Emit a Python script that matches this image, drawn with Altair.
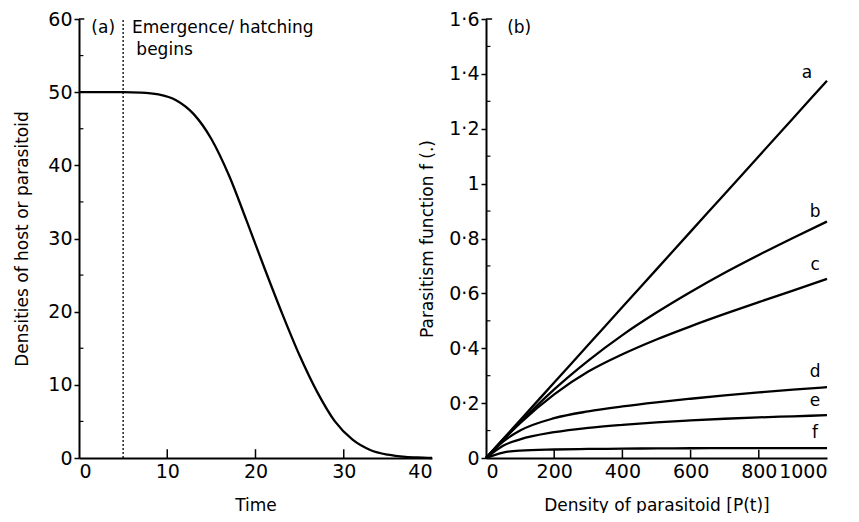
import altair as alt
import pandas as pd

FONT = "DejaVu Sans"

# ---------- Panel (a) data ----------
time = [0, 5, 7, 9, 11, 13, 15, 17, 19, 21, 23, 25, 27, 29, 31, 33, 35, 37, 39, 40]
density = [50, 50, 49.95, 49.7, 48.9, 47.0, 43.6, 38.6, 32.4, 26.0, 19.8, 14.0, 9.0, 5.0,
           2.5, 1.1, 0.45, 0.15, 0.05, 0]
emergence_time = [5]
a_xticks = [0, 10, 20, 30, 40]
a_yticks = [0, 10, 20, 30, 40, 50, 60]
a_minor_y = [5, 15, 25, 35, 45, 55]
a_notes = ["(a)", "Emergence/ hatching", "begins"]
a_notes_x = [1.4, 6.0, 6.5]
a_notes_y = [58.8, 58.8, 55.8]

# ---------- Panel (b) data ----------
P = [0, 50, 100, 200, 300, 400, 500, 600, 700, 800, 900, 1000]
curve_a = [0, 0.069, 0.1375, 0.275, 0.4125, 0.55, 0.6875, 0.825, 0.9625, 1.1, 1.2375, 1.375]
curve_b = [0, 0.066, 0.13, 0.25, 0.355, 0.448, 0.53, 0.605, 0.675, 0.74, 0.802, 0.862]
curve_c = [0, 0.066, 0.127, 0.232, 0.315, 0.378, 0.432, 0.48, 0.525, 0.568, 0.61, 0.653]
curve_d = [0, 0.06, 0.10, 0.145, 0.17, 0.188, 0.203, 0.216, 0.228, 0.239, 0.249, 0.258]
curve_e = [0, 0.045, 0.068, 0.094, 0.11, 0.121, 0.13, 0.137, 0.143, 0.148, 0.152, 0.156]
curve_f = [0, 0.02, 0.027, 0.031, 0.033, 0.034, 0.035, 0.0355, 0.036, 0.036, 0.036, 0.036]
curve_names = ["a", "b", "c", "d", "e", "f"]
label_x = [941, 965, 965, 965, 965, 965]
label_y = [1.404, 0.896, 0.704, 0.312, 0.207, 0.091]
b_xticks = [0, 200, 400, 600, 800, 1000]
b_yticks = [0, 0.2, 0.4, 0.6, 0.8, 1.0, 1.2, 1.4, 1.6]
b_minor_y = [0.1, 0.3, 0.5, 0.7, 0.9, 1.1, 1.3, 1.5]
b_notes = ["(b)"]
b_notes_x = [62]
b_notes_y = [1.567]

W_A, W_B, H = 353, 341, 439

axis_common = dict(
    domainColor="black", domainWidth=2, tickColor="black", tickWidth=1.5,
    labelFont=FONT, labelFontSize=19, labelColor="black", labelOverlap=False,
    titleFont=FONT, titleFontSize=17, titleFontWeight="normal", titleColor="black",
    grid=False,
)

# ---------- Panel (a) ----------
df_a = pd.DataFrame({"t": time, "v": density})
xa = alt.X("t:Q", scale=alt.Scale(domain=[0, 40], nice=False),
           axis=alt.Axis(values=a_xticks, title="Time", ticks=False, labelPadding=4,
                         titlePadding=16, format="d", **axis_common))
ya = alt.Y("v:Q", scale=alt.Scale(domain=[0, 60], nice=False),
           axis=alt.Axis(values=a_yticks, title="Densities of host or parasitoid", tickSize=5,
                         labelPadding=2, titlePadding=16, format="d", **axis_common))

line_a = alt.Chart(df_a).mark_line(color="black", strokeWidth=2.3, interpolate="monotone").encode(x=xa, y=ya)

rule_a = alt.Chart(pd.DataFrame({"t": emergence_time})).mark_rule(
    color="black", strokeWidth=1.3, strokeDash=[2, 2]
).encode(x="t:Q", y=alt.datum(0), y2=alt.datum(60))

xt_a = alt.Chart(pd.DataFrame({"t": a_xticks[1:-1]})).mark_rule(color="black", strokeWidth=1.5).encode(
    x="t:Q", y=alt.datum(0), y2=alt.datum(1.2))
yt_a = alt.Chart(pd.DataFrame({"v": a_minor_y})).mark_rule(color="black", strokeWidth=1.2).encode(
    y="v:Q", x=alt.datum(0), x2=alt.datum(0.5))
top_a = alt.Chart(pd.DataFrame({"v": [60]})).mark_rule(color="black", strokeWidth=1.5).encode(
    y="v:Q", x=alt.datum(0), x2=alt.datum(0.6))

text_a = alt.Chart(pd.DataFrame({"x": a_notes_x, "y": a_notes_y, "s": a_notes})).mark_text(
    align="left", baseline="middle", font=FONT, fontSize=17, color="black"
).encode(x="x:Q", y="y:Q", text="s:N")

panel_a = alt.layer(line_a, rule_a, xt_a, yt_a, top_a, text_a).properties(width=W_A, height=H)

# ---------- Panel (b) ----------
rows = []
for name, vals in zip(curve_names, [curve_a, curve_b, curve_c, curve_d, curve_e, curve_f]):
    for p, v in zip(P, vals):
        rows.append({"curve": name, "P": p, "f": v})
df_b = pd.DataFrame(rows)

xb = alt.X("P:Q", scale=alt.Scale(domain=[0, 1000], nice=False),
           axis=alt.Axis(values=b_xticks, title="Density of parasitoid [P(t)]", ticks=False,
                         labelPadding=4, titlePadding=16, format="d", **axis_common))
yb = alt.Y("f:Q", scale=alt.Scale(domain=[0, 1.6], nice=False),
           axis=alt.Axis(values=b_yticks, title="Parasitism function f (.)", tickSize=5,
                         labelPadding=2, titlePadding=12,
                         labelExpr="replace(format(datum.value, '~g'), '.', '·')",
                         **axis_common))

lines_b = alt.Chart(df_b).mark_line(color="black", strokeWidth=2.3, interpolate="monotone").encode(
    x=xb, y=yb, detail="curve:N")

xt_b = alt.Chart(pd.DataFrame({"P": b_xticks[1:-1]})).mark_rule(color="black", strokeWidth=1.5).encode(
    x="P:Q", y=alt.datum(0), y2=alt.datum(0.03))
yt_b = alt.Chart(pd.DataFrame({"f": b_minor_y})).mark_rule(color="black", strokeWidth=1.2).encode(
    y="f:Q", x=alt.datum(0), x2=alt.datum(13))
top_b = alt.Chart(pd.DataFrame({"f": [1.6]})).mark_rule(color="black", strokeWidth=1.5).encode(
    y="f:Q", x=alt.datum(0), x2=alt.datum(18))

labels_b = alt.Chart(pd.DataFrame({"x": label_x, "y": label_y, "s": curve_names})).mark_text(
    align="center", baseline="middle", font=FONT, fontSize=17, color="black"
).encode(x="x:Q", y="y:Q", text="s:N")

text_b = alt.Chart(pd.DataFrame({"x": b_notes_x, "y": b_notes_y, "s": b_notes})).mark_text(
    align="left", baseline="middle", font=FONT, fontSize=17, color="black"
).encode(x="x:Q", y="y:Q", text="s:N")

panel_b = alt.layer(lines_b, xt_b, yt_b, top_b, labels_b, text_b).properties(width=W_B, height=H)

chart = alt.hconcat(panel_a, panel_b, spacing=54, bounds="flush").properties(
    padding={"left": 5, "top": 2, "right": 5, "bottom": 0},
    background="white",
).configure_view(stroke=None)

chart.save("out.html", embed_options={"renderer": "svg", "actions": False})
